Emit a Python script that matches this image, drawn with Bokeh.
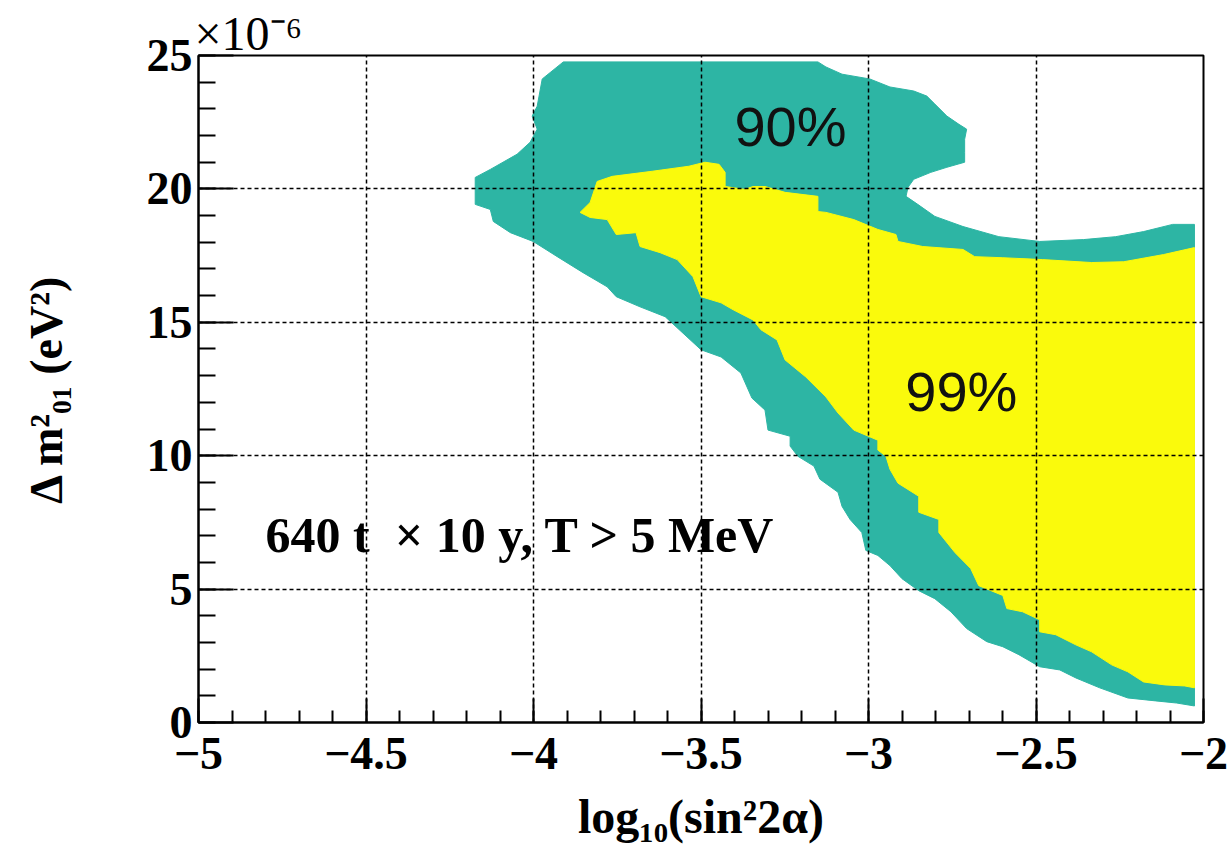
import numpy as np
from bokeh.plotting import figure
from bokeh.models import FixedTicker, Range1d
from bokeh.core.properties import value
from bokeh.embed import file_html
from bokeh.resources import INLINE

# ---- 90% C.L. region outline (x = log10(sin^2 2a), y = dm^2 in 1e-6 eV^2)
cl90_x = [-3.911, -3.151, -3.127, -3.079, -2.996, -2.936, -2.865, -2.826, -2.802, -2.766,
          -2.730, -2.707, -2.713, -2.713, -2.713, -2.766, -2.814, -2.865, -2.882, -2.888,
          -2.853, -2.802, -2.718, -2.611, -2.489, -2.358, -2.262, -2.179, -2.092, -2.027,
          -2.027, -2.080, -2.143, -2.226, -2.310, -2.381, -2.429, -2.489, -2.551, -2.599,
          -2.647, -2.707, -2.754, -2.802, -2.850, -2.900, -2.936, -2.972, -3.008, -3.020,
          -3.055, -3.079, -3.091, -3.145, -3.163, -3.211, -3.234, -3.234, -3.300, -3.309,
          -3.348, -3.381, -3.440, -3.500, -3.607, -3.682, -3.753, -3.780, -3.852, -3.929,
          -4.001, -4.069, -4.120, -4.129, -4.174, -4.174, -4.129, -4.049, -4.010, -3.989,
          -4.004, -3.989, -3.974]
cl90_y = [24.76, 24.76, 24.57, 24.30, 24.12, 23.82, 23.67, 23.48, 23.18, 22.73,
          22.42, 22.24, 21.86, 21.37, 21.00, 20.81, 20.62, 20.36, 20.06, 19.72,
          19.42, 18.97, 18.59, 18.21, 18.03, 18.10, 18.21, 18.40, 18.67, 18.67,
          0.62, 0.73, 0.81, 0.92, 1.30, 1.67, 1.97, 2.09, 2.54, 2.84,
          3.03, 3.52, 4.15, 4.64, 4.94, 5.39, 5.88, 6.26, 6.45, 7.12,
          7.61, 8.10, 8.63, 9.12, 9.61, 9.98, 10.36, 10.73, 10.96, 11.71,
          12.16, 13.10, 13.70, 13.97, 15.21, 15.58, 15.96, 16.33, 16.86, 17.46,
          18.03, 18.36, 18.78, 19.23, 19.42, 20.43, 20.73, 21.30, 21.75, 22.24,
          22.73, 23.10, 24.12]

# ---- 99% C.L. region outline
cl99_x = [-3.861, -3.831, -3.810, -3.765, -3.646, -3.536, -3.488, -3.446, -3.428, -3.428,
          -3.369, -3.345, -3.309, -3.249, -3.151, -3.151, -3.127, -3.044, -2.972, -2.918,
          -2.912, -2.838, -2.718, -2.683, -2.599, -2.480, -2.334, -2.238, -2.119, -2.027,
          -2.027, -2.056, -2.116, -2.179, -2.226, -2.274, -2.334, -2.381, -2.441, -2.489,
          -2.489, -2.540, -2.587, -2.599, -2.671, -2.695, -2.742, -2.790, -2.790, -2.850,
          -2.850, -2.912, -2.936, -2.948, -2.972, -2.972, -3.044, -3.091, -3.127, -3.187,
          -3.249, -3.273, -3.321, -3.345, -3.404, -3.440, -3.500, -3.524, -3.571, -3.622,
          -3.682, -3.694, -3.753, -3.780, -3.831]
cl99_y = [19.12, 19.49, 20.28, 20.47, 20.66, 20.85, 21.00, 20.92, 20.62, 20.09,
          19.98, 20.09, 20.09, 19.87, 19.72, 19.15, 19.12, 18.85, 18.48, 18.29,
          18.03, 17.84, 17.73, 17.46, 17.42, 17.35, 17.24, 17.27, 17.54, 17.80,
          1.30, 1.37, 1.41, 1.52, 1.90, 2.16, 2.65, 2.91, 3.29, 3.40,
          3.85, 4.15, 4.27, 4.76, 5.13, 5.77, 6.37, 7.12, 7.61, 7.88,
          8.48, 8.97, 9.49, 9.98, 10.21, 10.58, 10.96, 11.60, 12.20, 12.95,
          13.59, 14.34, 14.72, 15.09, 15.47, 15.73, 15.96, 16.71, 17.35, 17.61,
          17.84, 18.36, 18.29, 18.85, 18.93]

# ---- axes
x_ticks = [-5, -4.5, -4, -3.5, -3, -2.5, -2]
x_tick_labels = ["\u22125", "\u22124.5", "\u22124", "\u22123.5", "\u22123", "\u22122.5", "\u22122"]
y_ticks = [0, 5, 10, 15, 20, 25]
y_tick_labels = ["0", "5", "10", "15", "20", "25"]
y_multiplier = "\u00d710\u207b\u2076"

# ---- annotation texts (positions are the visual centres of the glyphs)
label_90 = "90%"
label_99 = "99%"
label_90_pos = (-3.233, 22.35)
label_99_pos = (-2.723, 12.42)
exposure_text = "640 t\u00a0 \u00d7 10 y, T > 5 MeV"
exposure_pos = (-4.80, 7.03)

TEAL = "#2DB5A4"
YELLOW = "#FAFA0C"
SERIF = "Liberation Serif"
SANS = "Liberation Sans"

p = figure(width=1229, height=855, x_range=Range1d(-5, -2), y_range=Range1d(0, 25),
           output_backend="svg", toolbar_location=None,
           min_border_left=198, min_border_right=26, min_border_top=55, min_border_bottom=133)
p.background_fill_color = "white"
p.border_fill_color = "white"
p.outline_line_color = "black"
p.outline_line_width = 2

# multiplier shown as plot title, left-aligned on the frame
p.title.text = y_multiplier
p.title.align = "left"
p.title.offset = -4
p.title.standoff = -8
p.title.text_font = SERIF
p.title.text_font_style = "normal"
p.title.text_font_size = "48px"
p.title.text_color = "black"

p.patch(cl90_x, cl90_y, fill_color=TEAL, line_color=TEAL, line_width=1)
p.patch(cl99_x, cl99_y, fill_color=YELLOW, line_color=YELLOW, line_width=1)

# grid
xt = FixedTicker(ticks=x_ticks, minor_ticks=list(np.round(np.arange(-5, -1.99, 0.1), 2)))
yt = FixedTicker(ticks=y_ticks, minor_ticks=list(range(0, 26)))
p.xaxis.ticker = xt
p.yaxis.ticker = yt
p.xgrid.ticker = xt
p.ygrid.ticker = yt
for g in (p.xgrid, p.ygrid):
    g.grid_line_color = "black"
    g.grid_line_width = 1.5
    g.grid_line_dash = "4 3"
    g.grid_line_alpha = 1.0
p.xgrid.level = "overlay"
p.ygrid.level = "overlay"

p.xaxis.major_label_overrides = {t: l for t, l in zip(x_ticks, x_tick_labels)}
p.yaxis.major_label_overrides = {t: l for t, l in zip(y_ticks, y_tick_labels)}

for ax in (p.xaxis[0], p.yaxis[0]):
    ax.axis_line_width = 2
    ax.axis_line_color = "black"
    ax.major_tick_out = 0
    ax.minor_tick_out = 0
    ax.major_tick_line_width = 2
    ax.minor_tick_line_width = 2
    ax.major_tick_line_color = "black"
    ax.minor_tick_line_color = "black"
    ax.major_label_text_font = SERIF
    ax.major_label_text_font_style = "bold"
    ax.major_label_text_font_size = "46px"
    ax.major_label_text_color = "black"
    ax.axis_label_text_font = SERIF
    ax.axis_label_text_font_style = "bold"
    ax.axis_label_text_color = "black"

p.xaxis.major_tick_in = 24
p.xaxis.minor_tick_in = 12
p.yaxis.major_tick_in = 35
p.yaxis.minor_tick_in = 17
p.xaxis.major_label_standoff = 15
p.yaxis.major_label_standoff = 6
p.xaxis.axis_label = "log\u2081\u2080(sin\u00b22\u03b1)"
p.yaxis.axis_label = "\u0394 m\u00b2\u2080\u2081 (eV\u00b2)"
p.xaxis.axis_label_text_font_size = "48px"
p.yaxis.axis_label_text_font_size = "46px"
p.xaxis.axis_label_standoff = 18
p.yaxis.axis_label_standoff = 72

p.text(x=[label_90_pos[0]], y=[label_90_pos[1]], text=[label_90],
       text_font=value(SANS), text_font_size=value("56px"), text_color="#111111",
       text_align="center", text_baseline="middle")
p.text(x=[label_99_pos[0]], y=[label_99_pos[1]], text=[label_99],
       text_font=value(SANS), text_font_size=value("56px"), text_color="#111111",
       text_align="center", text_baseline="middle")
p.text(x=[exposure_pos[0]], y=[exposure_pos[1]], text=[exposure_text],
       text_font=value(SERIF), text_font_style="bold", text_font_size=value("50px"),
       text_color="black", text_align="left", text_baseline="middle")

open("out.html", "w").write(file_html(p, INLINE))
